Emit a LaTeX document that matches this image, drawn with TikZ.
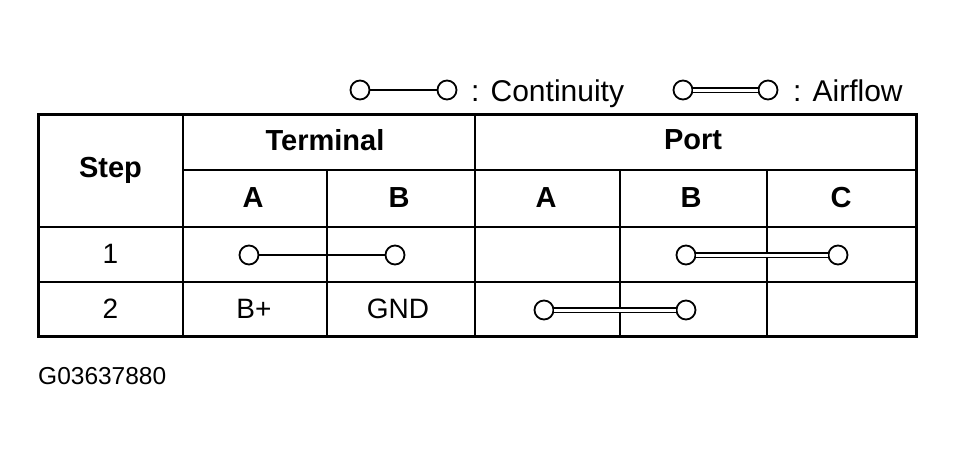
\documentclass[tikz,border=0pt]{standalone}
\usepackage{fontspec}
\setmainfont{Liberation Sans}
\begin{document}
\begin{tikzpicture}[x=1pt,y=-1pt,
 txt/.style={font=\fontsize{28}{30}\selectfont,inner sep=0},
 lg/.style={font=\fontsize{30}{32}\selectfont,inner sep=0},
 hd/.style={font=\bfseries\fontsize{29}{31}\selectfont,inner sep=0},
 dot/.style={circle,draw,line width=1.8pt,minimum size=19pt,inner sep=0,fill=white},
 cont/.style={line width=1.8pt},
 air/.style={double,double distance=3pt,line width=1.6pt}]
\useasboundingbox (0,0) rectangle (954,458);
\draw[line width=2pt] (183,114)--(183,336) (475,114)--(475,336)
 (183,170)--(916,170) (38,227)--(916,227) (38,282)--(916,282)
 (327,170)--(327,336) (620,170)--(620,336) (767,170)--(767,336);
\draw[line width=3pt] (38,114) rectangle (916,336);
\node[hd] (step) at (110.5,170) {Step};
\node[hd] (term) at (325,140) {Terminal};
\node[hd] (port) at (693,140) {Port};
\node[hd] (ta) at (253,198) {A};
\node[hd] (tb) at (399,198) {B};
\node[hd] (pa) at (546,198) {A};
\node[hd] (pb) at (691,198) {B};
\node[hd] (pc) at (841,198) {C};
\node[txt] (s1) at (110.5,254) {1};
\node[txt] (s2) at (110.5,309) {2};
\node[txt] (bp) at (254,309) {B+};
\node[txt] (gnd) at (398,309) {GND};
% legend
\node[dot] (l1) at (360,90) {};
\node[dot] (l2) at (447,90) {};
\draw[cont] (l1)--(l2);
\node[lg,anchor=base west] (lc) at (471,101) {: Continuity};
\node[dot] (l3) at (683,90) {};
\node[dot] (l4) at (768,90) {};
\draw[air] (l3)--(l4);
\node[lg,anchor=base west] (la) at (793,101) {: Airflow};
% row1
\node[dot] (r1a) at (249,255) {};
\node[dot] (r1b) at (395,255) {};
\draw[cont] (r1a)--(r1b);
\node[dot] (r1c) at (686,255) {};
\node[dot] (r1d) at (838,255) {};
\draw[air] (r1c)--(r1d);
% row2
\node[dot] (r2a) at (544,310) {};
\node[dot] (r2b) at (686,310) {};
\draw[air] (r2a)--(r2b);
\node[font=\fontsize{24.5}{26}\selectfont,inner sep=0,anchor=west] (code) at (38,376) {G03637880};
\end{tikzpicture}
\end{document}
